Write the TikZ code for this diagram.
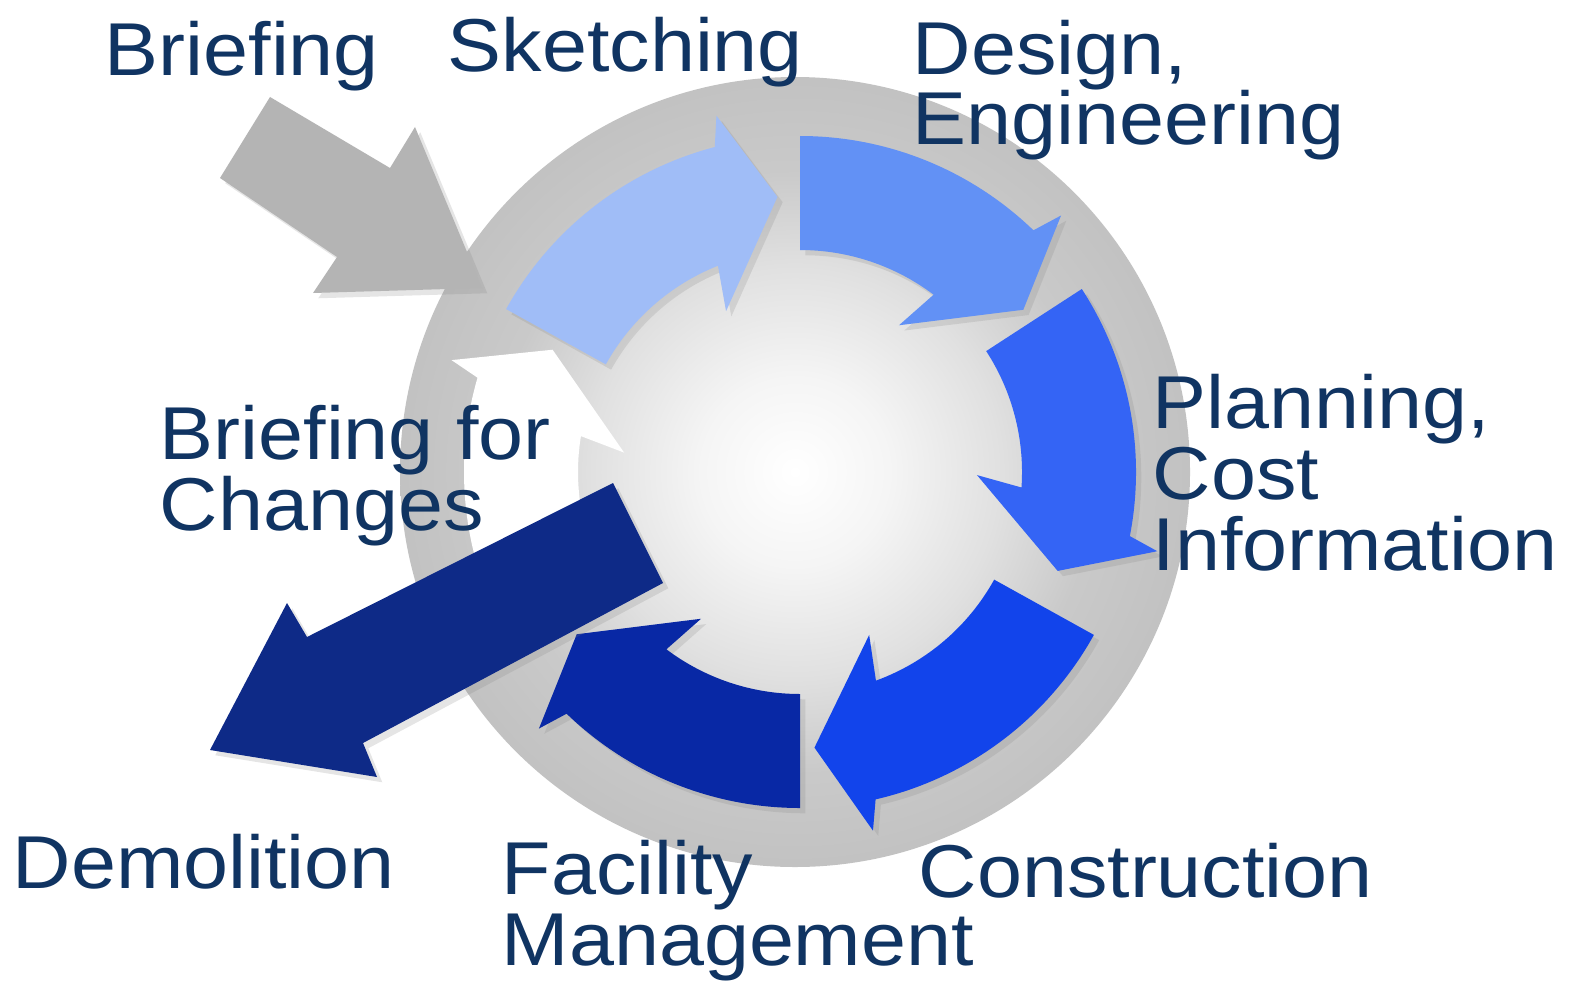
\documentclass[tikz,border=0pt]{standalone}
\usepackage{fontspec}
\setmainfont{Liberation Sans}[FakeStretch=1.08]
\usepackage{tikz}
\usetikzlibrary{shadows}
\definecolor{textnavy}{RGB}{16,52,98}
\definecolor{sketchblue}{RGB}{160,189,247}
\definecolor{designblue}{RGB}{98,145,245}
\definecolor{planblue}{RGB}{52,100,245}
\definecolor{buildblue}{RGB}{18,68,235}
\definecolor{facilityblue}{RGB}{8,40,165}
\definecolor{demolishblue}{RGB}{14,42,135}
\definecolor{briefgrey}{RGB}{180,180,180}
\pgfdeclareradialshading{globe}{\pgfpoint{0bp}{0bp}}{color(0bp)=(white); color(6bp)=(white!96!black); color(13bp)=(white!88!black); color(19bp)=(white!79!black); color(25bp)=(white!76!black); color(50bp)=(white!76!black)}
\def\ringarrow[#1](#2:#3){\fill[#1,shift={(800,472)}] (#2:336) arc[start angle=#2, end angle=#3-10, radius=336] -- (#3-8.5:366) -- (#3:276) -- (#3-20:177) -- (#3-17:222) arc[start angle=#3-17, end angle=#2, radius=222] -- cycle;}
\tikzset{
	stagetext/.style={inner sep=0pt, anchor=base west, text=textnavy, align=left, font=\fontsize{21.3}{20.1}\selectfont},
	softshadow/.style={drop shadow={shadow xshift=1.5pt, shadow yshift=-1.5pt, opacity=.2}}
}

\begin{document}
\begin{tikzpicture}[x=0.01cm, y=-0.01cm]
		%%%%% START %%%%%
		\useasboundingbox[fill=white] (0,0) rectangle (1577,991);
		
		\shade[shading=globe] (795,472) circle[radius=395];
		
		% cycle arrows
		\ringarrow[fill=white](160:206.3)
		\fill[briefgrey, softshadow] (270,97) -- (390,168) -- (415,127) -- (482,288) -- (313,293) -- (337,257) -- (220,178) -- cycle;
		\ringarrow[sketchblue, softshadow](-151:-94.7)
		\ringarrow[designblue, softshadow](-90:-36)
		\ringarrow[planblue, softshadow](-33:21)
		\ringarrow[buildblue, softshadow](29:87)
		\ringarrow[facilityblue, softshadow](90:144)
		
		\fill[demolishblue, softshadow] (613,483) -- (663,583) -- (363,743) -- (377,777) -- (210,750) -- (287,603) -- (307,637) -- cycle;
		
		% labels (base = last line)
		\node[stagetext] (briefing) at (104,76) {Briefing};
		\node[stagetext] (sketching) at (447,72) {Sketching};
		\node[stagetext] (design) at (912,145) {Design,\\Engineering};
		\node[stagetext] (planning) at (1152,570) {Planning,\\Cost\\Information};
		\node[stagetext] (construction) at (918,897) {Construction};
		\node[stagetext] (facility) at (501,965) {Facility\\Management};
		\node[stagetext] (demolition) at (12,888) {Demolition};
		\node[stagetext] (changes) at (159,530) {Briefing for\\Changes};
		%%%%% END %%%%%
\end{tikzpicture}
\end{document}
